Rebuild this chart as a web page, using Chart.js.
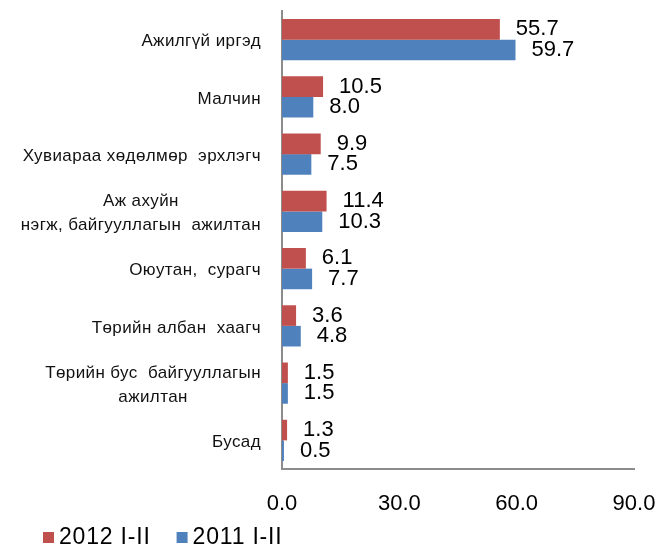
<!DOCTYPE html>
<html>
<head>
<meta charset="utf-8">
<script src="https://cdn.jsdelivr.net/npm/chart.js@4/dist/chart.umd.min.js"></script>
<style>
  body { margin: 0; background: #fff; }
  #wrap { width: 657px; height: 549px; position: relative; }
</style>
</head>
<body>
<div id="wrap"><canvas id="chart"></canvas></div>
<script>
// ангиллууд (мөр бүр тусдаа)
const categories = [
    "Ажилгүй иргэд",
    "Малчин",
    "Хувиараа хөдөлмөр  эрхлэгч",
    ["Аж ахуйн", "нэгж, байгууллагын  ажилтан"],
    "Оюутан,  сурагч",
    "Төрийн албан  хаагч",
    ["Төрийн бус  байгууллагын", "ажилтан"],
    "Бусад"
];
const values2012 = [55.7, 10.5, 9.9, 11.4, 6.1, 3.6, 1.5, 1.3];
const values2011 = [59.7, 8.0, 7.5, 10.3, 7.7, 4.8, 1.5, 0.5];
const seriesNames = ["2012 I-II", "2011 I-II"];
const xTicks = [0, 30, 60, 90];

const FONT = "'Liberation Sans', Arial, sans-serif";

// баганын утгыг баруун талд нь бичих
const valueLabels = {
    id: "valueLabels",
    afterDatasetsDraw(chart) {
        const ctx = chart.ctx;
        ctx.save();
        ctx.font = "22px " + FONT;
        ctx.fillStyle = "#000";
        ctx.textAlign = "left";
        ctx.textBaseline = "middle";
        chart.data.datasets.forEach((ds, i) => {
            chart.getDatasetMeta(i).data.forEach((bar, j) => {
                ctx.fillText(ds.data[j].toFixed(1), bar.x + 16, bar.y);
            });
        });
        ctx.restore();
    }
};

// ангиллын нэрийг мөр бүрээр нь голлуулж бичих
const categoryLabels = {
    id: "categoryLabels",
    afterDraw(chart) {
        const ctx = chart.ctx;
        const scale = chart.scales.y;
        ctx.save();
        ctx.font = "17px " + FONT;
        ctx.letterSpacing = "0.4px";
        ctx.fillStyle = "#111";
        ctx.textAlign = "center";
        ctx.textBaseline = "middle";
        const right = scale.right - 21;
        const lineH = 24;
        categories.forEach((label, i) => {
            const lines = Array.isArray(label) ? label : [label];
            const w = Math.max(...lines.map(l => ctx.measureText(l).width));
            const cx = right - w / 2;
            const y0 = scale.getPixelForTick(i) + 2 - (lines.length - 1) * lineH / 2;
            lines.forEach((l, k) => ctx.fillText(l, cx, y0 + k * lineH));
        });
        ctx.restore();
    }
};

// доод талын тайлбар
const bottomLegend = {
    id: "bottomLegend",
    afterDraw(chart) {
        const ctx = chart.ctx;
        ctx.save();
        ctx.font = "23px " + FONT;
        ctx.letterSpacing = "0.8px";
        ctx.textAlign = "left";
        ctx.textBaseline = "middle";
        const y = chart.height - 11;
        let x = 43;
        chart.data.datasets.forEach(ds => {
            ctx.fillStyle = ds.backgroundColor;
            ctx.fillRect(x, y - 6, 11, 11);
            ctx.fillStyle = "#000";
            ctx.fillText(ds.label, x + 16, y);
            x += 16 + ctx.measureText(ds.label).width + 26;
        });
        ctx.restore();
    }
};

new Chart(document.getElementById("chart"), {
    type: "bar",
    data: {
        labels: categories,
        datasets: [
            { label: seriesNames[0], data: values2012, backgroundColor: "#C0504D" },
            { label: seriesNames[1], data: values2011, backgroundColor: "#4F81BD" }
        ]
    },
    options: {
        indexAxis: "y",
        responsive: true,
        maintainAspectRatio: false,
        animation: false,
        layout: { padding: { left: 0, right: 0, top: 11, bottom: 0 } },
        datasets: { bar: { categoryPercentage: 0.72, barPercentage: 1.0 } },
        scales: {
            x: {
                min: 0,
                max: 90,
                afterBuildTicks: s => { s.ticks = xTicks.map(v => ({ value: v })); },
                grid: { display: false, drawTicks: false },
                border: { color: "#8c8c8c", width: 2 },
                ticks: {
                    padding: 22,
                    color: "#000",
                    font: { family: FONT, size: 22 },
                    callback: v => v.toFixed(1)
                },
                afterFit: s => { s.height = 80; s.paddingRight = 23; s.paddingLeft = 0; }
            },
            y: {
                grid: { display: false, drawTicks: false },
                border: { color: "#8c8c8c", width: 2 },
                ticks: { display: false },
                afterFit: s => { s.width = 282; }
            }
        },
        plugins: {
            legend: { display: false },
            tooltip: { enabled: false }
        }
    },
    plugins: [valueLabels, categoryLabels, bottomLegend]
});
</script>
</body>
</html>
